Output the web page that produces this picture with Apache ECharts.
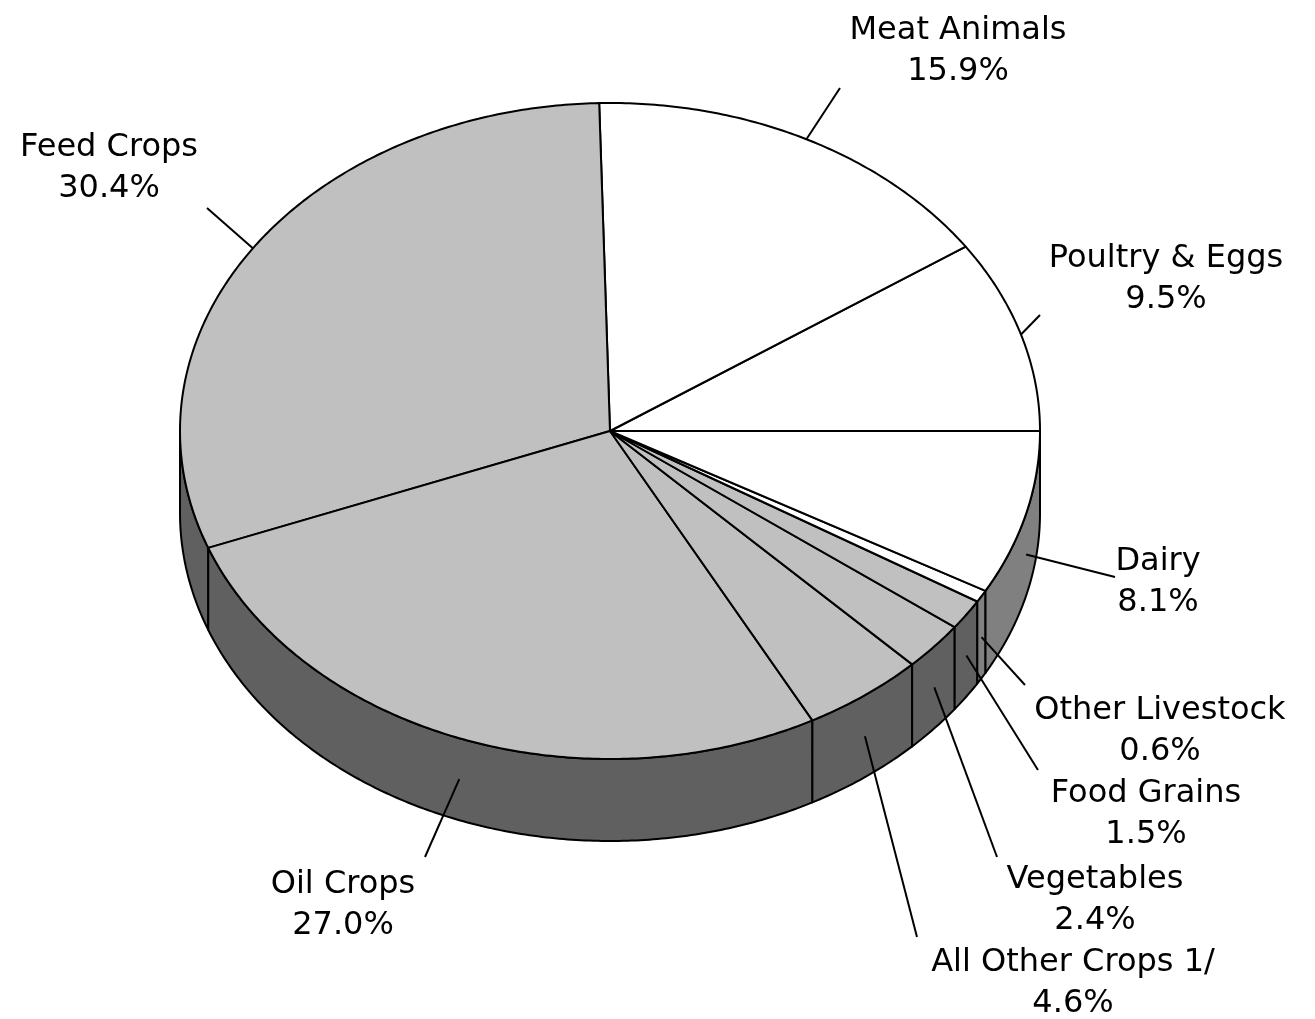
<!DOCTYPE html>
<html>
<head>
<meta charset="utf-8">
<script src="https://cdn.jsdelivr.net/npm/echarts@6/dist/echarts.min.js"></script>
<style>
html,body{margin:0;padding:0;background:#ffffff;}
#chart{width:1315px;height:1019px;}
</style>
</head>
<body>
<div id="chart"></div>
<script>
// ---- data (counter-clockwise from 3 o'clock) ----
const categories = ['Poultry & Eggs', 'Meat Animals', 'Feed Crops', 'Oil Crops', 'All Other Crops 1/', 'Vegetables', 'Food Grains', 'Other Livestock', 'Dairy'];
const shares = [9.5, 15.9, 30.4, 27.0, 4.6, 2.4, 1.5, 0.6, 8.1];
const groups = ['livestock', 'livestock', 'crops', 'crops', 'crops', 'crops', 'crops', 'livestock', 'livestock'];

// ---- layout / style (not data) ----
const W = 1315, H = 1019;
const CX = 610, CY = 431, RX = 430, RY = 328, DEPTH = 82;
const topColor = { livestock: '#ffffff', crops: '#c0c0c0' };
const sideColor = { livestock: '#808080', crops: '#606060' };
// label block centers and leader end points, in pixels
const labelPos = [[1166, 279], [958, 51], [109, 168], [343, 905], [1073, 983], [1095, 900], [1146, 814], [1160, 731], [1158, 582]];
const leaderEnd = [[1040, 315], [840, 88], [207, 208], [425, 857], [917, 937], [997, 857], [1038, 770], [1025, 685], [1115, 577]];

const total = shares.reduce((a, b) => a + b, 0);
const cumStart = [];
shares.reduce((acc, v, i) => { cumStart[i] = acc; return acc + v; }, 0);
const depthUnits = DEPTH / RY;

function arcPoints(api, a1, a2, dy) {
  const pts = [];
  const n = Math.max(2, Math.ceil((a2 - a1) / 0.01));
  for (let k = 0; k <= n; k++) {
    const a = a1 + (a2 - a1) * k / n;
    pts.push(api.coord([Math.cos(a), Math.sin(a) - dy]));
  }
  return pts;
}

function renderItem(params, api) {
  const i = params.dataIndex;
  const a1 = cumStart[i] / total * Math.PI * 2;
  const a2 = (cumStart[i] + shares[i]) / total * Math.PI * 2;
  const g = groups[i];
  const children = [];

  // visible side wall (front half: angles between PI and 2PI)
  const s = Math.max(a1, Math.PI), e = Math.min(a2, Math.PI * 2);
  if (e > s) {
    const topArc = arcPoints(api, s, e, 0);
    const botArc = arcPoints(api, s, e, depthUnits).reverse();
    children.push({
      type: 'polygon', z2: 1,
      shape: { points: topArc.concat(botArc) },
      style: { fill: sideColor[g], stroke: '#000', lineWidth: 2, lineJoin: 'round' }
    });
  }

  // top face
  const c = api.coord([0, 0]);
  const topPts = [c].concat(arcPoints(api, a1, a2, 0));
  children.push({
    type: 'polygon', z2: 2,
    shape: { points: topPts },
    style: { fill: topColor[g], stroke: '#000', lineWidth: 2, lineJoin: 'round' }
  });

  // leader line from mid-angle on the rim (or side) to label
  const m = (a1 + a2) / 2;
  const sm = Math.sin(m);
  const start = api.coord([Math.cos(m), sm - (sm < 0 ? depthUnits / 2 : 0)]);
  children.push({
    type: 'line', z2: 3,
    shape: { x1: start[0], y1: start[1], x2: leaderEnd[i][0], y2: leaderEnd[i][1] },
    style: { stroke: '#000', lineWidth: 2 }
  });

  // label
  children.push({
    type: 'text', z2: 4,
    style: {
      text: categories[i] + '\n' + shares[i].toFixed(1) + '%',
      x: labelPos[i][0], y: labelPos[i][1],
      align: 'center', verticalAlign: 'middle',
      font: '32px "DejaVu Sans"', lineHeight: 41, fill: '#000'
    }
  });

  return { type: 'group', children: children };
}

const chart = echarts.init(document.getElementById('chart'), null, { renderer: 'canvas' });
chart.setOption({
  backgroundColor: '#ffffff',
  animation: false,
  grid: { left: 0, right: 0, top: 0, bottom: 0 },
  xAxis: { type: 'value', min: -CX / RX, max: (W - CX) / RX, show: false },
  yAxis: { type: 'value', min: -(H - CY) / RY, max: CY / RY, show: false },
  series: [{
    type: 'custom',
    coordinateSystem: 'cartesian2d',
    renderItem: renderItem,
    encode: { x: 0, y: 1 },
    data: shares.map((v, i) => ({ name: categories[i], value: [0, 0, v] }))
  }]
});
</script>
</body>
</html>
